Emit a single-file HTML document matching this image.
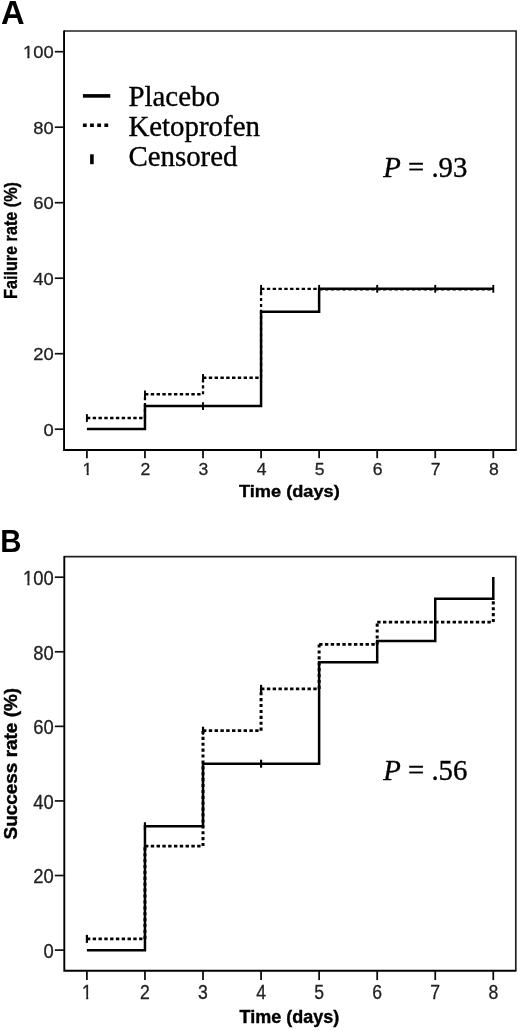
<!DOCTYPE html>
<html><head><meta charset="utf-8"><title>Figure</title>
<style>
html,body{margin:0;padding:0;background:#fff;}
svg{display:block;will-change:transform;}
text{font-family:"Liberation Sans",sans-serif;}
.tl{font-size:16px;fill:#222;stroke:#222;stroke-width:0.25px;}
.al{font-size:16px;font-weight:bold;fill:#000;stroke:#000;stroke-width:0.35px;}
.pl{font-size:30px;font-weight:bold;fill:#000;}
.pv,.lg{font-family:"Liberation Serif",serif;font-size:28.9px;fill:#000;stroke:#000;stroke-width:0.35px;}
.pv{font-size:28.8px;}
.so{fill:none;stroke:#000;stroke-width:2.5;stroke-linejoin:miter;}
.dh{fill:none;stroke:#000;stroke-dasharray:3.4 2.4;}
.dv{fill:none;stroke:#000;stroke-dasharray:3.1 2.8;}
.ct{fill:none;stroke:#000;}
</style></head>
<body>
<svg width="520" height="1031" viewBox="0 0 520 1031">
<defs>
<clipPath id="c1m"><path d="M-6 -14 H6 V-2.7 H1.2 V1 H-0.65 V-2.7 H-6 Z"/></clipPath>
<clipPath id="c1e"><path d="M-30 -14 H2 V2 H-18 V-2.7 H-21.05 V1 H-22.9 V-2.7 H-30 Z"/></clipPath>
</defs>
<rect width="520" height="1031" fill="#fff"/>
<!-- Panel A -->
<path d="M64.05 31.0 H516.1 V450.0" fill="none" stroke="#222" stroke-width="1.6"/>
<path d="M64.05 30.4 V450.0 H516.7" fill="none" stroke="#000" stroke-width="1.9"/>
<path d="M54.8 429.2 H64.05" stroke="#111" stroke-width="1.7"/>
<text transform="translate(53.7 435.95) scale(1.15 1.07)" text-anchor="end" class="tl">0</text>
<path d="M54.8 353.7 H64.05" stroke="#111" stroke-width="1.7"/>
<text transform="translate(53.7 360.45) scale(1.15 1.07)" text-anchor="end" class="tl">20</text>
<path d="M54.8 278.2 H64.05" stroke="#111" stroke-width="1.7"/>
<text transform="translate(53.7 284.95) scale(1.15 1.07)" text-anchor="end" class="tl">40</text>
<path d="M54.8 202.7 H64.05" stroke="#111" stroke-width="1.7"/>
<text transform="translate(53.7 209.45) scale(1.15 1.07)" text-anchor="end" class="tl">60</text>
<path d="M54.8 127.2 H64.05" stroke="#111" stroke-width="1.7"/>
<text transform="translate(53.7 133.95) scale(1.15 1.07)" text-anchor="end" class="tl">80</text>
<path d="M54.8 51.7 H64.05" stroke="#111" stroke-width="1.7"/>
<text transform="translate(53.7 58.45) scale(1.15 1.07)" text-anchor="end" class="tl" clip-path="url(#c1e)">100</text>
<path d="M86.9 450.0 V458.2" stroke="#111" stroke-width="1.8"/>
<text transform="translate(87.4 474.8) scale(1.1 1.07)" text-anchor="middle" class="tl" clip-path="url(#c1m)">1</text>
<path d="M144.96 450.0 V458.2" stroke="#111" stroke-width="1.8"/>
<text transform="translate(145.46 474.8) scale(1.1 1.07)" text-anchor="middle" class="tl">2</text>
<path d="M203.01 450.0 V458.2" stroke="#111" stroke-width="1.8"/>
<text transform="translate(203.51 474.8) scale(1.1 1.07)" text-anchor="middle" class="tl">3</text>
<path d="M261.07 450.0 V458.2" stroke="#111" stroke-width="1.8"/>
<text transform="translate(261.57 474.8) scale(1.1 1.07)" text-anchor="middle" class="tl">4</text>
<path d="M319.13 450.0 V458.2" stroke="#111" stroke-width="1.8"/>
<text transform="translate(319.63 474.8) scale(1.1 1.07)" text-anchor="middle" class="tl">5</text>
<path d="M377.19 450.0 V458.2" stroke="#111" stroke-width="1.8"/>
<text transform="translate(377.69 474.8) scale(1.1 1.07)" text-anchor="middle" class="tl">6</text>
<path d="M435.24 450.0 V458.2" stroke="#111" stroke-width="1.8"/>
<text transform="translate(435.74 474.8) scale(1.1 1.07)" text-anchor="middle" class="tl">7</text>
<path d="M493.3 450.0 V458.2" stroke="#111" stroke-width="1.8"/>
<text transform="translate(493.8 474.8) scale(1.1 1.07)" text-anchor="middle" class="tl">8</text>
<text transform="translate(289.4 497.2) scale(1.137 1.05)" text-anchor="middle" class="al">Time (days)</text>
<text transform="translate(17.4 240.5) rotate(-90) scale(1.012 1.15)" text-anchor="middle" class="al">Failure rate (%)</text>
<text transform="translate(1.0 24.3) scale(1.09 1.1)" class="pl">A</text>
<text x="383.2" y="176.5" class="pv"><tspan font-style="italic">P</tspan> = .93</text>
<path d="M86.9 418.0 H144.96" class="dh" stroke-width="2.4"/>
<path d="M144.96 418.0 V394.3" class="dv" stroke-width="2.3"/>
<path d="M144.96 394.3 H203.01" class="dh" stroke-width="2.4"/>
<path d="M203.01 394.3 V377.8" class="dv" stroke-width="2.3"/>
<path d="M203.01 377.8 H261.07" class="dh" stroke-width="2.4"/>
<path d="M261.07 377.8 V288.9" class="dv" stroke-width="2.3"/>
<path d="M261.07 288.9 H319.13" class="dh" stroke-width="2.4"/>
<path d="M319.13 288.9 V289.25" class="dv" stroke-width="2.3"/>
<path d="M319.13 289.25 H493.3" class="dh" stroke-width="2.4"/>
<path d="M86.9 429.1 L144.96 429.1 L144.96 406.1 L261.07 406.1 L261.07 311.7 L319.13 311.7 L319.13 288.8 L493.3 288.8" class="so"/>
<path d="M203.01 402.2 V410.0" class="ct" stroke-width="1.9"/>
<path d="M319.13 284.9 V292.7" class="ct" stroke-width="1.9"/>
<path d="M377.19 284.9 V292.7" class="ct" stroke-width="1.9"/>
<path d="M435.24 284.9 V292.7" class="ct" stroke-width="1.9"/>
<path d="M493.3 284.9 V292.7" class="ct" stroke-width="1.9"/>
<path d="M86.9 414.1 V421.9" class="ct" stroke-width="1.9"/>
<path d="M144.96 390.4 V398.2" class="ct" stroke-width="1.9"/>
<path d="M203.01 373.9 V381.7" class="ct" stroke-width="1.9"/>
<path d="M261.07 284.9 V292.7" class="ct" stroke-width="1.9"/>
<!-- Legend -->
<path d="M82.9 95.9 H110.3" stroke="#000" stroke-width="3.6"/>
<path d="M82.9 125.2 H110.3" stroke="#000" stroke-width="3.6" stroke-dasharray="3.8 3.36"/>
<path d="M91.9 154.3 V164.2" stroke="#000" stroke-width="3.6"/>
<text x="128.4" y="106.3" class="lg">Placebo</text>
<text x="128.4" y="136.4" class="lg">Ketoprofen</text>
<text x="128.4" y="166" class="lg">Censored</text>
<!-- Panel B -->
<path d="M64.3 556.6 H515.8 V970.8" fill="none" stroke="#222" stroke-width="1.7"/>
<path d="M64.3 556.0 V970.8 H516.4" fill="none" stroke="#000" stroke-width="1.9"/>
<path d="M54.8 950.1 H64.3" stroke="#111" stroke-width="1.7"/>
<text transform="translate(53.7 957.83) scale(1.15 1.24)" text-anchor="end" class="tl">0</text>
<path d="M54.8 875.52 H64.3" stroke="#111" stroke-width="1.7"/>
<text transform="translate(53.7 883.25) scale(1.15 1.24)" text-anchor="end" class="tl">20</text>
<path d="M54.8 800.94 H64.3" stroke="#111" stroke-width="1.7"/>
<text transform="translate(53.7 808.67) scale(1.15 1.24)" text-anchor="end" class="tl">40</text>
<path d="M54.8 726.36 H64.3" stroke="#111" stroke-width="1.7"/>
<text transform="translate(53.7 734.09) scale(1.15 1.24)" text-anchor="end" class="tl">60</text>
<path d="M54.8 651.78 H64.3" stroke="#111" stroke-width="1.7"/>
<text transform="translate(53.7 659.51) scale(1.15 1.24)" text-anchor="end" class="tl">80</text>
<path d="M54.8 577.2 H64.3" stroke="#111" stroke-width="1.7"/>
<text transform="translate(53.7 584.93) scale(1.15 1.24)" text-anchor="end" class="tl" clip-path="url(#c1e)">100</text>
<path d="M86.9 970.8 V980.0999999999999" stroke="#111" stroke-width="1.8"/>
<text transform="translate(86.9 998.7) scale(1.1 1.24)" text-anchor="middle" class="tl" clip-path="url(#c1m)">1</text>
<path d="M144.96 970.8 V980.0999999999999" stroke="#111" stroke-width="1.8"/>
<text transform="translate(144.96 998.7) scale(1.1 1.24)" text-anchor="middle" class="tl">2</text>
<path d="M203.01 970.8 V980.0999999999999" stroke="#111" stroke-width="1.8"/>
<text transform="translate(203.01 998.7) scale(1.1 1.24)" text-anchor="middle" class="tl">3</text>
<path d="M261.07 970.8 V980.0999999999999" stroke="#111" stroke-width="1.8"/>
<text transform="translate(261.07 998.7) scale(1.1 1.24)" text-anchor="middle" class="tl">4</text>
<path d="M319.13 970.8 V980.0999999999999" stroke="#111" stroke-width="1.8"/>
<text transform="translate(319.13 998.7) scale(1.1 1.24)" text-anchor="middle" class="tl">5</text>
<path d="M377.19 970.8 V980.0999999999999" stroke="#111" stroke-width="1.8"/>
<text transform="translate(377.19 998.7) scale(1.1 1.24)" text-anchor="middle" class="tl">6</text>
<path d="M435.24 970.8 V980.0999999999999" stroke="#111" stroke-width="1.8"/>
<text transform="translate(435.24 998.7) scale(1.1 1.24)" text-anchor="middle" class="tl">7</text>
<path d="M493.3 970.8 V980.0999999999999" stroke="#111" stroke-width="1.8"/>
<text transform="translate(493.3 998.7) scale(1.1 1.24)" text-anchor="middle" class="tl">8</text>
<text transform="translate(289.4 1023) scale(1.125 1.17)" text-anchor="middle" class="al">Time (days)</text>
<text transform="translate(17.3 763.7) rotate(-90) scale(1.184 1.16)" text-anchor="middle" class="al">Success rate (%)</text>
<text transform="translate(0.2 551.7) scale(0.98 1.07)" class="pl">B</text>
<text x="383.2" y="780.3" class="pv"><tspan font-style="italic">P</tspan> = .56</text>
<path d="M86.9 938.9 H144.96" class="dh" stroke-width="2.7"/>
<path d="M144.96 938.9 V846.1" class="dv" stroke-width="3.0"/>
<path d="M144.96 846.1 H203.01" class="dh" stroke-width="2.7"/>
<path d="M203.01 846.1 V730.7" class="dv" stroke-width="3.0"/>
<path d="M203.01 730.7 H261.07" class="dh" stroke-width="2.7"/>
<path d="M261.07 730.7 V688.9" class="dv" stroke-width="3.0"/>
<path d="M261.07 688.9 H319.13" class="dh" stroke-width="2.7"/>
<path d="M319.13 688.9 V644.4" class="dv" stroke-width="3.0"/>
<path d="M319.13 644.4 H377.19" class="dh" stroke-width="2.7"/>
<path d="M377.19 644.4 V622.1" class="dv" stroke-width="3.0"/>
<path d="M377.19 622.1 H493.3" class="dh" stroke-width="2.7"/>
<path d="M493.3 622.1 V598.7" class="dv" stroke-width="3.0"/>
<path d="M86.9 950.2 L144.96 950.2 L144.96 826.25 L203.01 826.25 L203.01 763.7 L319.13 763.7 L319.13 662.3 L377.19 662.3 L377.19 641.0 L435.24 641.0 L435.24 598.7 L493.3 598.7 L493.3 576.9" class="so"/>
<path d="M144.96 822.25 V830.25" class="ct" stroke-width="2.2"/>
<path d="M261.07 759.7 V767.7" class="ct" stroke-width="2.2"/>
<path d="M86.9 934.9 V942.9" class="ct" stroke-width="2.2"/>
<path d="M203.01 726.7 V734.7" class="ct" stroke-width="2.2"/>
<path d="M261.07 684.9 V692.9" class="ct" stroke-width="2.2"/>
</svg>
</body></html>
